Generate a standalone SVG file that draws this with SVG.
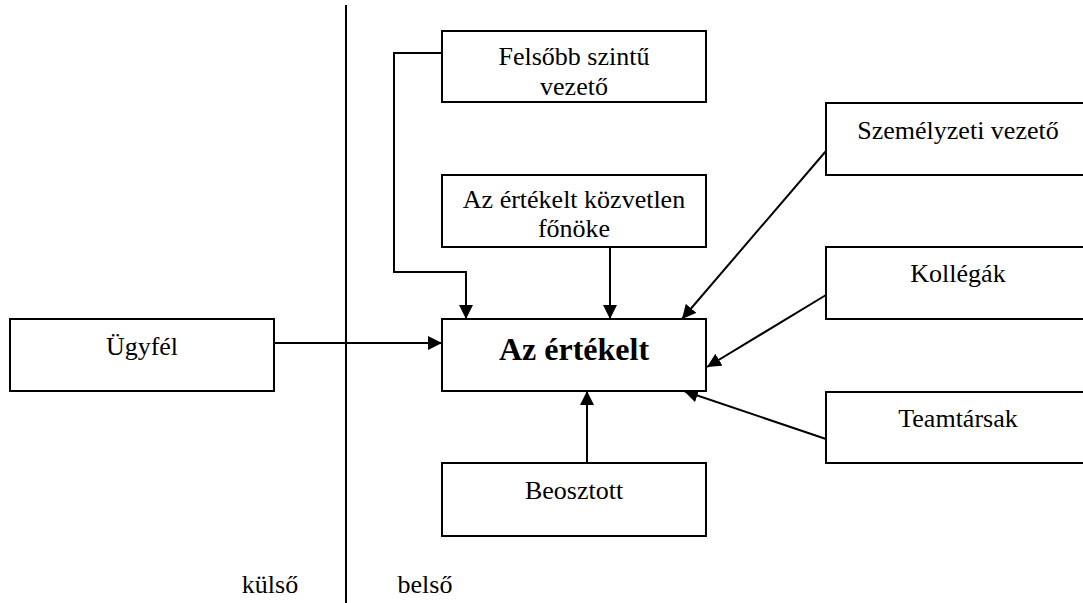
<svg xmlns="http://www.w3.org/2000/svg" width="1083" height="603" viewBox="0 0 1083 603">
<style>
.box{fill:#fff;stroke:#000;stroke-width:2}
.t{font-family:"Liberation Serif","Times New Roman",serif;font-size:26px;fill:#000;text-anchor:middle}
.b{font-weight:bold;font-size:32px}
.c{fill:none;stroke:#000;stroke-width:2}
</style>
<defs>
<marker id="ah" markerUnits="userSpaceOnUse" markerWidth="14" markerHeight="14" refX="14" refY="7" orient="auto" viewBox="0 0 14 14">
<path d="M0,0 L14,7 L0,14 z" fill="#000"/>
</marker>
</defs>
<rect width="1083" height="603" fill="#fff"/>
<g id="divider">
<line x1="346" y1="5" x2="346" y2="603" class="c"/>
</g>
<g id="connectors">
<polyline points="442,53 394,53 394,272 466,272 466,319" class="c" marker-end="url(#ah)"/>
<line x1="610" y1="247" x2="610" y2="319" class="c" marker-end="url(#ah)"/>
<line x1="274" y1="343" x2="442" y2="343" class="c" marker-end="url(#ah)"/>
<line x1="826" y1="151" x2="682" y2="319" class="c" marker-end="url(#ah)"/>
<line x1="826" y1="295" x2="707" y2="367" class="c" marker-end="url(#ah)"/>
<line x1="826" y1="439" x2="684" y2="391" class="c" marker-end="url(#ah)"/>
<line x1="587" y1="463" x2="587" y2="391" class="c" marker-end="url(#ah)"/>
</g>
<g id="felsobb">
<rect x="442" y="31" width="264" height="71" class="box"/>
<text x="574" y="65" class="t">Felsőbb szintű</text>
<text x="574" y="95" class="t">vezető</text>
</g>
<g id="kozvetlen">
<rect x="442" y="175" width="264" height="72" class="box"/>
<text x="574" y="208" class="t">Az értékelt közvetlen</text>
<text x="574" y="237" class="t">főnöke</text>
</g>
<g id="ertekelt">
<rect x="442" y="319" width="264" height="72" class="box"/>
<text x="574" y="360" class="t b">Az értékelt</text>
</g>
<g id="ugyfel">
<rect x="10" y="319" width="264" height="72" class="box"/>
<text x="142" y="355" class="t">Ügyfél</text>
</g>
<g id="beosztott">
<rect x="442" y="463" width="264" height="73" class="box"/>
<text x="574" y="499" class="t">Beosztott</text>
</g>
<g id="szemelyzeti">
<rect x="826" y="103" width="270" height="72" class="box"/>
<text x="958" y="139" class="t">Személyzeti vezető</text>
</g>
<g id="kollegak">
<rect x="826" y="247" width="270" height="72" class="box"/>
<text x="958" y="282" class="t">Kollégák</text>
</g>
<g id="teamtarsak">
<rect x="826" y="392" width="270" height="71" class="box"/>
<text x="958" y="427" class="t">Teamtársak</text>
</g>
<g id="labels">
<text x="270" y="593" class="t">külső</text>
<text x="425" y="593" class="t">belső</text>
</g>
</svg>
